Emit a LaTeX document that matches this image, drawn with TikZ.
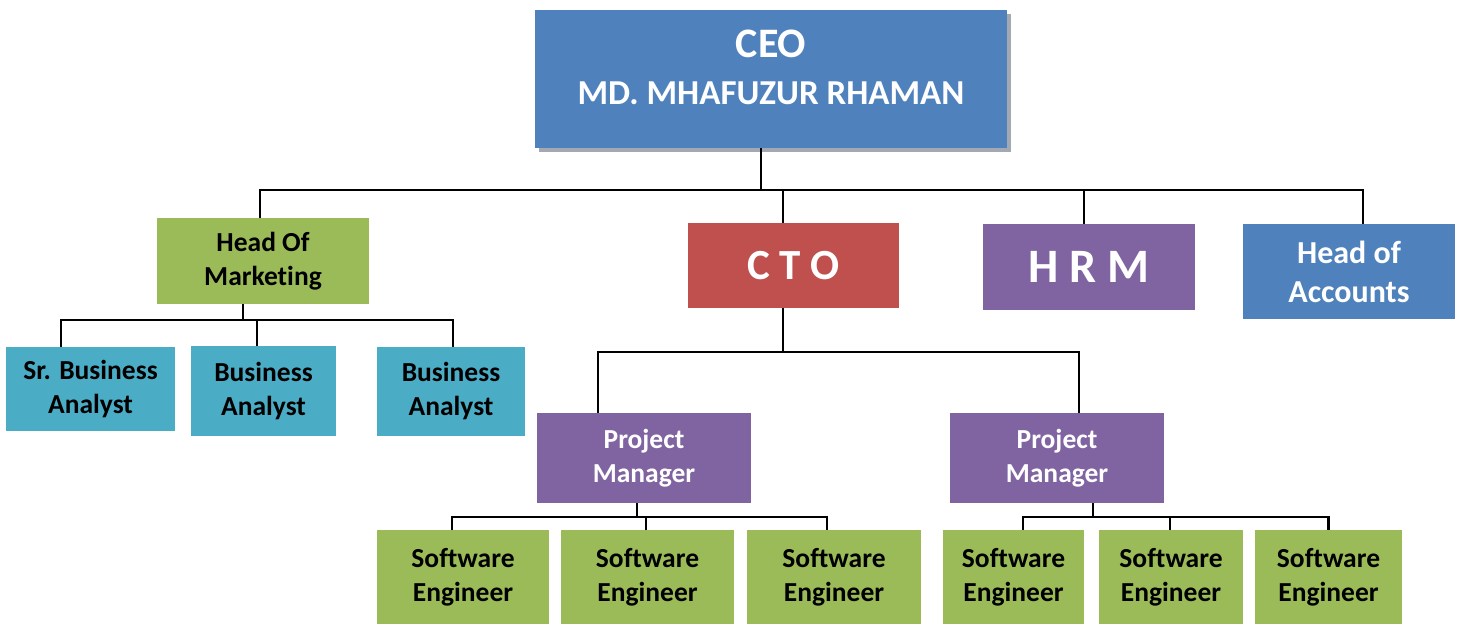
\documentclass[tikz,border=0pt]{standalone}
\usepackage{fontspec}
\setmainfont{Carlito}[Ligatures=NoCommon]
\usetikzlibrary{shadows}

\definecolor{ceoblue}{HTML}{4F81BD}
\definecolor{leafgreen}{HTML}{9BBB59}
\definecolor{ctored}{HTML}{C0504D}
\definecolor{mgrpurple}{HTML}{8064A2}
\definecolor{analystteal}{HTML}{4BACC6}
\definecolor{shadowgray}{HTML}{A3A9B2}

\begin{document}
\begin{tikzpicture}[x=1pt, y=-1pt,
            box/.style={rectangle, inner sep=0pt, align=center, font=\bfseries\fontsize{27.5}{34}\selectfont},
            conn/.style={line width=2.2pt, black}]
            \useasboundingbox (0, 0) rectangle (1463, 626);

            \node [box, fill=ceoblue, text=white, minimum width=472pt, minimum height=138pt, font=\bfseries\fontsize{35}{47}\selectfont,
                drop shadow={shadow xshift=4pt, shadow yshift=-4pt, fill=shadowgray, opacity=1}] (ceo) at (771, 79)
                {{\fontsize{42}{47}\selectfont CEO}\\MD. MHAFUZUR RHAMAN\rule[-24pt]{0pt}{0pt}};

            \node [box, fill=leafgreen, minimum width=212pt, minimum height=86pt] (mkt) at (263, 261) {Head Of\\Marketing};
            \node [box, fill=ctored, text=white, minimum width=211pt, minimum height=85pt, font=\bfseries\fontsize{43}{50}\selectfont] (cto) at (793.5, 265.5) {C T O};
            \node [box, fill=mgrpurple, text=white, minimum width=212pt, minimum height=86pt, font=\bfseries\fontsize{48}{50}\selectfont] (hrm) at (1089, 267) {H R M};
            \node [box, fill=ceoblue, text=white, minimum width=212pt, minimum height=95pt, font=\bfseries\fontsize{32}{39}\selectfont] (acc) at (1349, 271.5) {Head of\\Accounts};

            \node [box, fill=analystteal, minimum width=169pt, minimum height=84pt] (sba) at (90.5, 389) {Sr. Business\\Analyst};
            \node [box, fill=analystteal, minimum width=145pt, minimum height=90pt] (ba1) at (263.5, 391) {Business\\Analyst};
            \node [box, fill=analystteal, minimum width=148pt, minimum height=89pt] (ba2) at (451, 391.5) {Business\\Analyst};

            \node [box, fill=mgrpurple, text=white, minimum width=214pt, minimum height=90pt] (pm1) at (644, 458) {Project\\Manager};
            \node [box, fill=mgrpurple, text=white, minimum width=214pt, minimum height=90pt] (pm2) at (1057, 458) {Project\\Manager};

            \node [box, fill=leafgreen, minimum width=172pt, minimum height=94pt] (se1) at (463, 577) {Software\\Engineer};
            \node [box, fill=leafgreen, minimum width=173pt, minimum height=94pt] (se2) at (647.5, 577) {Software\\Engineer};
            \node [box, fill=leafgreen, minimum width=174pt, minimum height=94pt] (se3) at (834, 577) {Software\\Engineer};
            \node [box, fill=leafgreen, minimum width=141pt, minimum height=94pt] (se4) at (1013.5, 577) {Software\\Engineer};
            \node [box, fill=leafgreen, minimum width=144pt, minimum height=94pt] (se5) at (1171, 577) {Software\\Engineer};
            \node [box, fill=leafgreen, minimum width=147pt, minimum height=94pt] (se6) at (1328.5, 577) {Software\\Engineer};

            \coordinate (ceobus) at (0, 190);
            \draw [conn] ([xshift=-10pt]ceo.south) to ([xshift=-10pt]ceo.south |- ceobus);
            \draw [conn] ([xshift=-3pt]mkt.north) |- ([xshift=14pt]acc.north |- ceobus) to ([xshift=14pt]acc.north);
            \draw [conn] ([xshift=-10.5pt]cto.north) to ([xshift=-10.5pt]cto.north |- ceobus);
            \draw [conn] ([xshift=-5pt]hrm.north) to ([xshift=-5pt]hrm.north |- ceobus);

            \coordinate (mktbus) at (0, 320);
            \draw [conn] ([xshift=-20pt]mkt.south) to ([xshift=-20pt]mkt.south |- mktbus);
            \draw [conn] ([xshift=-29.5pt]sba.north) |- ([xshift=2pt]ba2.north |- mktbus) to ([xshift=2pt]ba2.north);
            \draw [conn] ([xshift=-6.5pt]ba1.north) to ([xshift=-6.5pt]ba1.north |- mktbus);

            \coordinate (ctobus) at (0, 352);
            \draw [conn] ([xshift=-10.5pt]cto.south) to ([xshift=-10.5pt]cto.south |- ctobus);
            \draw [conn] ([xshift=-46pt]pm1.north) |- ([xshift=22pt]pm2.north |- ctobus) to ([xshift=22pt]pm2.north);

            \coordinate (pmbus) at (0, 517);
            \draw [conn] ([xshift=-7pt]pm1.south) to ([xshift=-7pt]pm1.south |- pmbus);
            \draw [conn] ([xshift=-11pt]se1.north) |- ([xshift=-7pt]se3.north |- pmbus) to ([xshift=-7pt]se3.north);
            \draw [conn] ([xshift=-1.5pt]se2.north) to ([xshift=-1.5pt]se2.north |- pmbus);

            \draw [conn] ([xshift=36pt]pm2.south) to ([xshift=36pt]pm2.south |- pmbus);
            \draw [conn] ([xshift=9.5pt]se4.north) |- (se6.north |- pmbus) to (se6.north);
            \draw [conn] ([xshift=-1pt]se5.north) to ([xshift=-1pt]se5.north |- pmbus);
        \end{tikzpicture}
\end{document}
